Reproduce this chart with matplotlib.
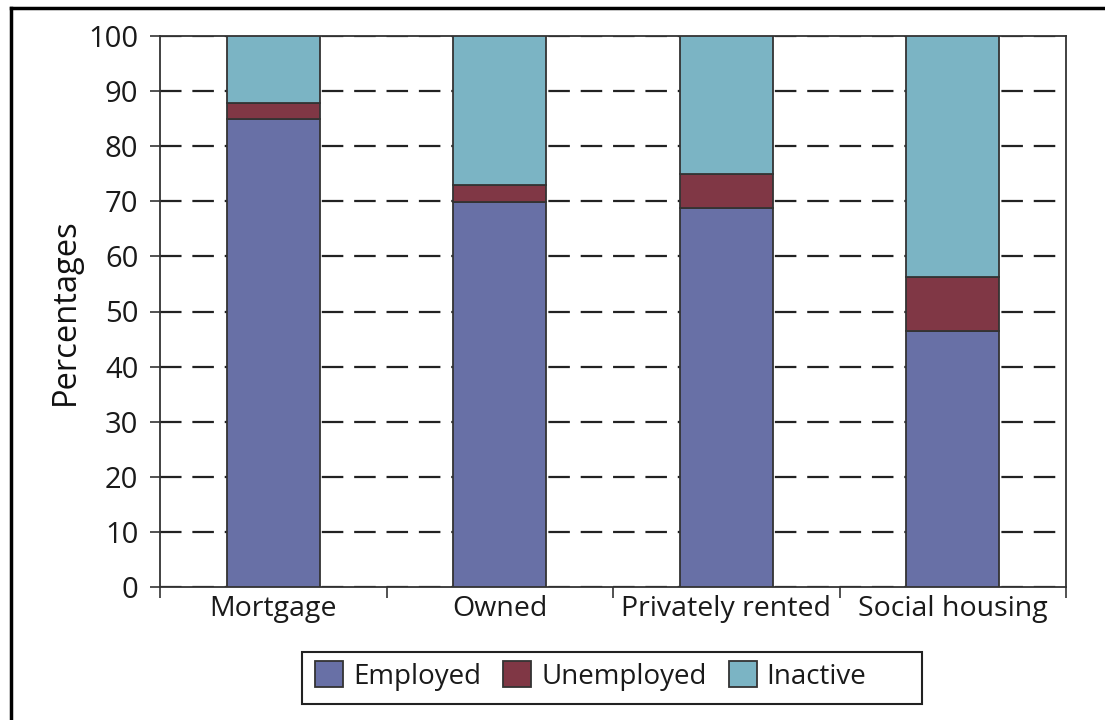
import matplotlib
matplotlib.use("Agg")
from matplotlib import pyplot as plt
from matplotlib.lines import Line2D
from matplotlib.patches import Rectangle
import numpy as np

plt.rcParams['font.family'] = ['Open Sans', 'DejaVu Sans']
plt.rcParams['lines.scale_dashes'] = False

categories = ['Mortgage', 'Owned', 'Privately rented', 'Social housing']
employed = [85.0, 69.8, 68.8, 46.4]
unemployed = [2.8, 3.1, 6.1, 9.9]
inactive = [12.2, 27.1, 25.1, 43.7]

series_names = ['Employed', 'Unemployed', 'Inactive']
colors = ['#6870a6', '#803745', '#7bb4c4']

W, H = 1105, 720
fig = plt.figure(figsize=(W / 100, H / 100), dpi=100)
ax = fig.add_axes([160 / W, 1 - 587 / H, (1066 - 160) / W, (587 - 36) / H])

x = np.arange(len(categories))
bottom = np.zeros(len(categories))
handles = []
for vals, name, c in zip([employed, unemployed, inactive], series_names, colors):
    b = ax.bar(x, vals, bottom=bottom, width=0.41, color=c, edgecolor='#333333',
               linewidth=1.3, label=name, zorder=3)
    handles.append(b)
    bottom += np.array(vals)

ax.set_xlim(-0.5, len(categories) - 0.5)
ax.set_ylim(0, 100)
ax.set_yticks(np.arange(0, 101, 10))
ax.yaxis.grid(True, color='#222222', linewidth=1.6, linestyle=(0, (15.5, 7.8)), zorder=0)
ax.set_axisbelow(True)

# category labels centred, tick marks on the boundaries
ax.set_xticks(x)
ax.set_xticklabels(categories, fontsize=20.5)
ax.tick_params(axis='x', length=0, pad=6)
ax.set_xticks(np.arange(-0.5, len(categories), 1), minor=True)
ax.tick_params(axis='x', which='minor', length=8, width=1.2, color='#333333', direction='out')
ax.tick_params(axis='y', labelsize=21, length=7.5, width=1.2, color='#333333', pad=8,
               labelcolor='#1a1a1a')
for lab in ax.get_xticklabels():
    lab.set_color('#1a1a1a')
for s in ax.spines.values():
    s.set_color('#333333')
    s.set_linewidth(1.3)

ax.set_ylabel('Percentages', fontsize=23.5, labelpad=5, color='#111111', fontweight='medium')

# legend with its own frame
leg = fig.legend(handles=handles, labels=series_names, loc='center left',
                 bbox_to_anchor=(296 / W, 1 - 676 / H), ncol=3, frameon=False,
                 fontsize=20, handlelength=1.0, handleheight=1.05,
                 handletextpad=0.36, columnspacing=0.8, borderpad=0.2)
for t in leg.get_texts():
    t.set_color('#1a1a1a')
fig.patches.append(Rectangle((302 / W, 1 - 704 / H), (922 - 302) / W, (704 - 652) / H,
                             transform=fig.transFigure, fill=False,
                             edgecolor='#222222', linewidth=1.5))

# outer frame (only top and left visible)
fig.lines.append(Line2D([11 / W, 1], [1 - 7.5 / H, 1 - 7.5 / H], transform=fig.transFigure,
                        color='black', linewidth=2.5))
fig.lines.append(Line2D([11 / W, 11 / W], [0, 1 - 7.5 / H], transform=fig.transFigure,
                        color='black', linewidth=2.5))

fig.savefig('out.png', dpi=100)
